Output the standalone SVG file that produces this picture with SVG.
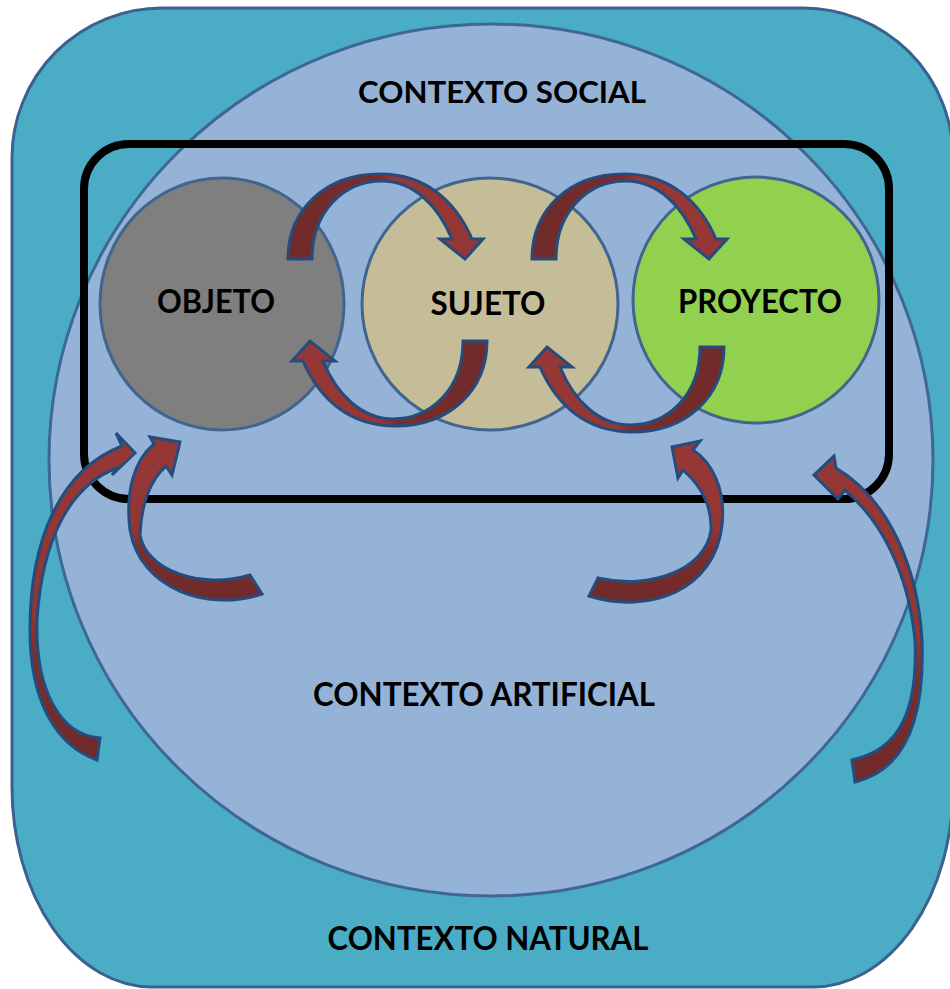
<svg xmlns="http://www.w3.org/2000/svg" width="950" height="989" viewBox="0 0 950 989">
<defs>
<linearGradient id="gH" x1="0" y1="0" x2="1" y2="0">
<stop offset="0" stop-color="#6F2A29"/><stop offset="0.46" stop-color="#7A2D2B"/><stop offset="0.54" stop-color="#953735"/><stop offset="1" stop-color="#963735"/>
</linearGradient>
<linearGradient id="gV" x1="0" y1="0" x2="0" y2="1">
<stop offset="0" stop-color="#963735"/><stop offset="0.55" stop-color="#923634"/><stop offset="0.7" stop-color="#7A2D2B"/><stop offset="1" stop-color="#6F2A29"/>
</linearGradient>
<style>
.lbl{font-family:"Lato","Liberation Sans",sans-serif;font-weight:bold;fill:#000;text-anchor:middle}
.node{stroke:#41658F;stroke-width:3}
.ah{stroke:#244C7E;stroke-width:3;stroke-linejoin:miter}
.ahH{fill:url(#gH)}
.ahV{fill:url(#gV)}
</style>
<path id="curv" d="M288,259 C288,210 325,174 380,174 C425,174 455,200 472,239 L483,239 L465,259 L440,239 L452,239 C438,205 413,181 382,181 C345,181 312,210 312,259 Z"/>
</defs>

<g id="contexto-natural">
<path d="M162,8 H803 A150,150 0 0 1 953,158 V787 A140,200 0 0 1 813,987 H152 A140,200 0 0 1 12,787 V158 A150,150 0 0 1 162,8 Z" fill="#4BACC6" stroke="#3A6190" stroke-width="3"/>
<text class="lbl" x="488" y="950" font-size="32" textLength="321" lengthAdjust="spacingAndGlyphs">CONTEXTO NATURAL</text>
</g>

<g id="contexto-social">
<ellipse cx="491" cy="460" rx="442" ry="436" fill="#95B3D7" stroke="#3E6696" stroke-width="3"/>
<text class="lbl" x="502" y="103" font-size="30" textLength="288" lengthAdjust="spacingAndGlyphs">CONTEXTO SOCIAL</text>
<text class="lbl" x="484" y="706" font-size="32" textLength="342" lengthAdjust="spacingAndGlyphs">CONTEXTO ARTIFICIAL</text>
</g>

<g id="marco">
<rect x="84" y="144" width="805" height="355" rx="45" ry="45" fill="none" stroke="#000" stroke-width="8"/>
</g>

<g id="objeto">
<ellipse class="node" cx="222" cy="304" rx="122" ry="126" fill="#7F7F7F"/>
<text class="lbl" x="216" y="313" font-size="32" textLength="118" lengthAdjust="spacingAndGlyphs">OBJETO</text>
</g>

<g id="sujeto">
<ellipse class="node" cx="490" cy="304" rx="128" ry="126" fill="#C4BD97"/>
<text class="lbl" x="488" y="315" font-size="32" textLength="115" lengthAdjust="spacingAndGlyphs">SUJETO</text>
</g>

<g id="proyecto">
<ellipse class="node" cx="756" cy="300" rx="123" ry="123" fill="#92D050"/>
<text class="lbl" x="760" y="313" font-size="32" textLength="164" lengthAdjust="spacingAndGlyphs">PROYECTO</text>
</g>

<g id="connectors">
<use href="#curv" class="ah ahH"/>
<use href="#curv" class="ah ahH" transform="translate(244,0)"/>
<use href="#curv" class="ah ahH" transform="rotate(180,387.5,300)"/>
<use href="#curv" class="ah ahH" transform="rotate(180,506,303)"/>
<path class="ah ahV" d="M262,594 C210,612 140,590 130,530 C125,490 135,460 154,444 L150,437 L180,442 L172,475 L166,466 C150,480 141,505 140,535 C146,570 200,590 250,575 Z"/>
<path class="ah ahV" d="M97,760 C55,745 30,700 30,630 C30,540 60,470 122,446 L116,433 L135,453 L112,475 L117,468 C70,485 42,540 37,620 C35,690 60,735 100,738 Z"/>
<path class="ah ahV" d="M589,596 C650,615 715,590 722,525 C726,490 712,462 693,450 L700,441 L672,447 L678,478 L683,470 C700,485 712,505 711,530 C706,570 650,590 598,578 Z"/>
<path class="ah ahV" d="M855,782 C905,770 925,720 922,640 C918,570 890,500 836,468 L834,456 L814,475 L838,499 L845,490 C880,520 908,570 915,640 C918,710 900,750 852,760 Z"/>
</g>
</svg>
